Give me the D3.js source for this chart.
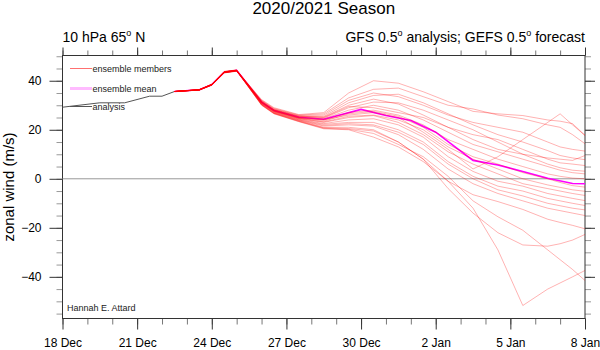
<!DOCTYPE html>
<html>
<head>
<meta charset="utf-8">
<script src="https://cdn.jsdelivr.net/npm/d3@7"></script>
<style>
  body { margin: 0; background: #fff; }
  svg { display: block; font-family: "Liberation Sans", Arial, Helvetica, sans-serif; }
</style>
</head>
<body>
<div id="vis"></div>
<script>
// ---- data (days counted from 18 Dec 2020 00z) ----
const xTickDays = [0, 3, 6, 9, 12, 15, 18, 21];
const xTickLabels = ['18 Dec', '21 Dec', '24 Dec', '27 Dec', '30 Dec', '2 Jan', '5 Jan', '8 Jan'];
const yTickValues = [-40, -20, 0, 20, 40];

const analysisDays = [0, 1.5, 2.5, 3.5, 4, 4.5];
const analysisVals = [29.2, 31.0, 31.0, 33.7, 33.7, 35.6];

const meanDays = [4.5, 5.5, 6, 6.5, 7, 8, 8.5, 9.5, 10.5, 12, 13, 14, 15, 15.5, 16.5, 17.5, 18.5, 19.5, 20.5, 21];
const meanVals = [35.6, 36.3, 38.4, 43.5, 44.2, 31.3, 27.9, 25.1, 24.3, 28.3, 25.8, 23.8, 19.0, 15.2, 7.5, 5.6, 3.0, 0.2, -1.9, -2.0];

const memberDays = [4.5, 5.5, 6, 6.5, 7, 8, 8.5, 9.5, 10.5, 11.5, 12.5, 13.5, 14.5, 15.5, 16.5, 17.5, 18.5, 19.5, 20, 20.5, 21];
const members = [
  [35.6, 36.3, 38.4, 43.5, 44.2, 32.3, 29.0, 26.2, 27.0, 35.0, 40.0, 39.0, 35.5, 31.5, 27.5, 26.5, 25.8, 24.0, 23.5, 22.5, 17.7],
  [35.6, 36.2, 38.2, 43.2, 43.9, 32.0, 28.7, 26.0, 26.5, 33.0, 36.5, 37.0, 33.5, 30.0, 28.5, 26.0, 24.5, 22.0, 21.0, 18.0, 14.3],
  [35.6, 36.4, 38.6, 43.8, 44.4, 31.9, 28.5, 25.8, 26.0, 32.0, 35.0, 33.5, 30.0, 26.0, 23.0, 21.0, 19.0, 15.0, 13.0, 12.0, 11.3],
  [35.6, 36.3, 38.3, 43.4, 44.1, 31.7, 28.3, 25.5, 25.5, 31.0, 34.0, 34.5, 31.0, 26.5, 22.0, 18.0, 15.0, 11.5, 9.5, 8.5, 7.8],
  [35.6, 36.3, 38.5, 43.6, 44.3, 31.5, 28.1, 25.4, 25.2, 30.0, 32.5, 30.5, 26.0, 21.0, 18.0, 16.0, 12.0, 8.0, 6.5, 6.0, 5.4],
  [35.6, 36.2, 38.3, 43.3, 44.0, 31.4, 28.0, 25.2, 24.8, 29.0, 31.3, 31.0, 28.0, 24.0, 20.0, 15.0, 10.0, 6.0, 4.5, 3.5, 3.1],
  [35.6, 36.4, 38.5, 43.7, 44.3, 31.3, 27.9, 25.0, 24.5, 28.0, 30.0, 28.0, 24.0, 19.0, 14.0, 11.0, 8.0, 5.0, 3.5, 2.5, 2.0],
  [35.6, 36.3, 38.4, 43.5, 44.2, 31.2, 27.8, 24.9, 24.0, 26.0, 27.0, 25.0, 19.0, 12.0, 4.0, 9.0, 16.0, 23.0, 26.5, 22.0, 17.7],
  [35.6, 36.2, 38.2, 43.3, 44.0, 31.1, 27.7, 24.8, 24.0, 27.0, 28.0, 26.0, 22.0, 16.0, 12.0, 8.0, 5.0, 2.0, 1.0, 0.3, 0.0],
  [35.6, 36.3, 38.5, 43.6, 44.2, 31.0, 27.6, 24.7, 23.5, 26.5, 27.5, 25.5, 21.0, 14.0, 9.0, 6.0, 2.5, 0.0, -1.5, -2.8, -3.4],
  [35.6, 36.4, 38.6, 43.8, 44.4, 30.9, 27.5, 24.6, 23.2, 25.5, 26.0, 24.0, 20.0, 13.0, 8.0, 4.0, 0.0, -2.5, -3.5, -4.5, -5.1],
  [35.6, 36.3, 38.3, 43.4, 44.1, 30.8, 27.4, 24.5, 23.0, 25.0, 25.8, 23.0, 18.0, 11.0, 6.0, 2.0, -2.0, -4.0, -5.0, -6.0, -6.8],
  [35.6, 36.2, 38.3, 43.3, 44.0, 30.7, 27.3, 24.3, 22.5, 24.0, 24.5, 22.0, 17.0, 9.0, 3.0, -1.0, -3.0, -6.0, -7.0, -8.0, -8.9],
  [35.6, 36.3, 38.4, 43.5, 44.2, 30.6, 27.2, 24.1, 22.2, 23.0, 23.0, 20.0, 15.0, 7.0, 1.0, -3.0, -5.0, -8.0, -9.0, -10.0, -10.9],
  [35.6, 36.4, 38.5, 43.7, 44.3, 30.5, 27.0, 24.0, 21.8, 22.5, 22.0, 19.0, 14.0, 6.0, 0.0, -4.5, -7.0, -10.0, -11.0, -12.0, -12.7],
  [35.6, 36.3, 38.4, 43.4, 44.1, 30.4, 26.9, 23.8, 21.5, 22.0, 21.5, 18.0, 12.0, 4.0, -2.0, -6.0, -9.0, -12.0, -13.0, -14.0, -15.0],
  [35.6, 36.2, 38.2, 43.2, 43.9, 30.3, 26.8, 23.7, 21.0, 21.0, 20.0, 15.0, 8.0, -1.0, -6.5, -9.3, -12.5, -16.5, -17.8, -19.0, -20.4],
  [35.6, 36.3, 38.5, 43.6, 44.3, 30.2, 26.7, 23.5, 20.8, 20.5, 19.5, 15.0, 8.0, -4.0, -14.0, -22.0, -27.0, -27.5, -26.5, -25.0, -22.7],
  [35.6, 36.4, 38.4, 43.5, 44.2, 30.1, 26.6, 23.4, 20.6, 20.2, 18.5, 14.0, 9.0, 1.0, -9.0, -15.5, -21.0, -29.0, -33.0, -37.0, -41.5],
  [35.6, 36.3, 38.3, 43.4, 44.1, 30.0, 26.5, 23.3, 20.4, 20.0, 17.0, 13.0, 7.0, -1.0, -12.0, -29.0, -51.7, -45.0, -42.5, -40.0, -37.4],
  [35.6, 36.3, 38.5, 43.6, 44.2, 31.6, 28.2, 25.6, 25.0, 29.5, 29.0, 27.0, 25.0, 21.0, 16.0, 12.0, 10.0, 8.5, 8.0, 7.5, 9.5]
];

const legendItems = ['ensemble members', 'ensemble mean', 'analysis'];

// ---- layout ----
const svgWidth = 600;
const svgHeight = 350;
const plotLeft = 62.5, plotRight = 585, plotTop = 55.5, plotBottom = 318.5;

const svg = d3.select('#vis').append('svg').attr('width', svgWidth).attr('height', svgHeight);

const x = d3.scaleLinear().domain([0, 21]).range([plotLeft, plotRight]);
const y = d3.scaleLinear().domain([-57, 50.3]).range([plotBottom, plotTop]);

const styleAxis = (g, fontSize) => {
  g.select('.domain').remove();
  g.attr('font-family', null).attr('font-size', fontSize);
  g.selectAll('line').attr('stroke', '#333');
  g.selectAll('text').attr('fill', '#000');
};

// minor ticks
const minorX = d3.range(0, 22, 1);
const minorY = d3.range(-55, 51, 5);
svg.append('g').attr('transform', `translate(0,${plotBottom})`)
  .call(d3.axisBottom(x).tickValues(minorX).tickSize(6).tickFormat(''))
  .call((g) => { styleAxis(g, 12); g.selectAll('line').attr('stroke', '#777'); });
svg.append('g').attr('transform', `translate(0,${plotTop})`)
  .call(d3.axisTop(x).tickValues(minorX).tickSize(5).tickFormat(''))
  .call((g) => { styleAxis(g, 12); g.selectAll('line').attr('stroke', '#777'); });
svg.append('g').attr('transform', `translate(${plotLeft},0)`)
  .call(d3.axisLeft(y).tickValues(minorY).tickSize(6).tickFormat(''))
  .call((g) => { styleAxis(g, 12); g.selectAll('line').attr('stroke', '#999'); });
svg.append('g').attr('transform', `translate(${plotRight},0)`)
  .call(d3.axisRight(y).tickValues(minorY).tickSize(6).tickFormat(''))
  .call((g) => { styleAxis(g, 12); g.selectAll('line').attr('stroke', '#999'); });

// major ticks + labels
svg.append('g').attr('transform', `translate(0,${plotBottom})`)
  .call(d3.axisBottom(x).tickValues(xTickDays).tickSize(11).tickPadding(9)
    .tickFormat((d, i) => xTickLabels[i]))
  .call((g) => styleAxis(g, 12));
svg.append('g').attr('transform', `translate(0,${plotTop})`)
  .call(d3.axisTop(x).tickValues(xTickDays).tickSize(8).tickFormat(''))
  .call((g) => styleAxis(g, 12));
svg.append('g').attr('transform', `translate(${plotLeft},0)`)
  .call(d3.axisLeft(y).tickValues(yTickValues).tickSize(13).tickPadding(8).tickFormat(d3.format('d')))
  .call((g) => styleAxis(g, 12));
svg.append('g').attr('transform', `translate(${plotRight},0)`)
  .call(d3.axisRight(y).tickValues(yTickValues).tickSize(10).tickFormat(''))
  .call((g) => styleAxis(g, 12));

// frame
svg.append('rect')
  .attr('x', plotLeft).attr('y', plotTop)
  .attr('width', plotRight - plotLeft).attr('height', plotBottom - plotTop)
  .attr('fill', 'none').attr('stroke', '#333').attr('stroke-width', 1);

// zero line
svg.append('line')
  .attr('x1', plotLeft).attr('x2', plotRight)
  .attr('y1', y(0)).attr('y2', y(0))
  .attr('stroke', '#999').attr('stroke-width', 1);

const line = d3.line().x((d) => x(d[0])).y((d) => y(d[1]));

// analysis
svg.append('path')
  .datum(analysisDays.map((d, i) => [d, analysisVals[i]]))
  .attr('fill', 'none').attr('stroke', '#555').attr('stroke-width', 1)
  .attr('d', line);

// ensemble mean (under the members)
svg.append('path')
  .datum(meanDays.map((d, i) => [d, meanVals[i]]))
  .attr('fill', 'none').attr('stroke', '#ff00ff').attr('stroke-width', 1.6)
  .attr('d', line);

// members
svg.append('g').selectAll('path')
  .data(members)
  .join('path')
  .attr('fill', 'none').attr('stroke', '#ff0000').attr('stroke-opacity', 0.3).attr('stroke-width', 1)
  .attr('d', (vals) => line(memberDays.map((d, i) => [d, vals[i]])));

// legend
const legendColors = ['#ff7070', '#ffbbff', '#555'];
const legendWidths = [1, 3, 1];
const legendY = [68.5, 88.5, 106.5];
const legend = svg.append('g');
legendItems.forEach((name, i) => {
  legend.append('line')
    .attr('x1', 70).attr('x2', 92).attr('y1', legendY[i]).attr('y2', legendY[i])
    .attr('stroke', legendColors[i]).attr('stroke-width', legendWidths[i]);
  legend.append('text')
    .attr('x', 92.5).attr('y', legendY[i]).attr('dy', '0.35em')
    .attr('font-size', 9).attr('fill', '#222').text(name);
});

// titles
svg.append('text')
  .attr('x', (plotLeft + plotRight) / 2).attr('y', 14)
  .attr('text-anchor', 'middle').attr('font-size', 17).text('2020/2021 Season');

const left = svg.append('text').attr('x', plotLeft).attr('y', 42).attr('font-size', 14);
left.append('tspan').text('10 hPa 65');
left.append('tspan').attr('font-size', 9).attr('dy', -6).text('o');
left.append('tspan').attr('dy', 6).text(' N');

const right = svg.append('text').attr('x', plotRight).attr('y', 42).attr('font-size', 14).attr('text-anchor', 'end');
right.append('tspan').text('GFS 0.5');
right.append('tspan').attr('font-size', 9).attr('dy', -6).text('o');
right.append('tspan').attr('dy', 6).text(' analysis; GEFS 0.5');
right.append('tspan').attr('font-size', 9).attr('dy', -6).text('o');
right.append('tspan').attr('dy', 6).text(' forecast');

svg.append('text')
  .attr('transform', `translate(14,${(plotTop + plotBottom) / 2}) rotate(-90)`)
  .attr('text-anchor', 'middle').attr('font-size', 15).text('zonal wind (m/s)');

svg.append('text')
  .attr('x', 67).attr('y', 311).attr('font-size', 9).attr('fill', '#222').text('Hannah E. Attard');
</script>
</body>
</html>
